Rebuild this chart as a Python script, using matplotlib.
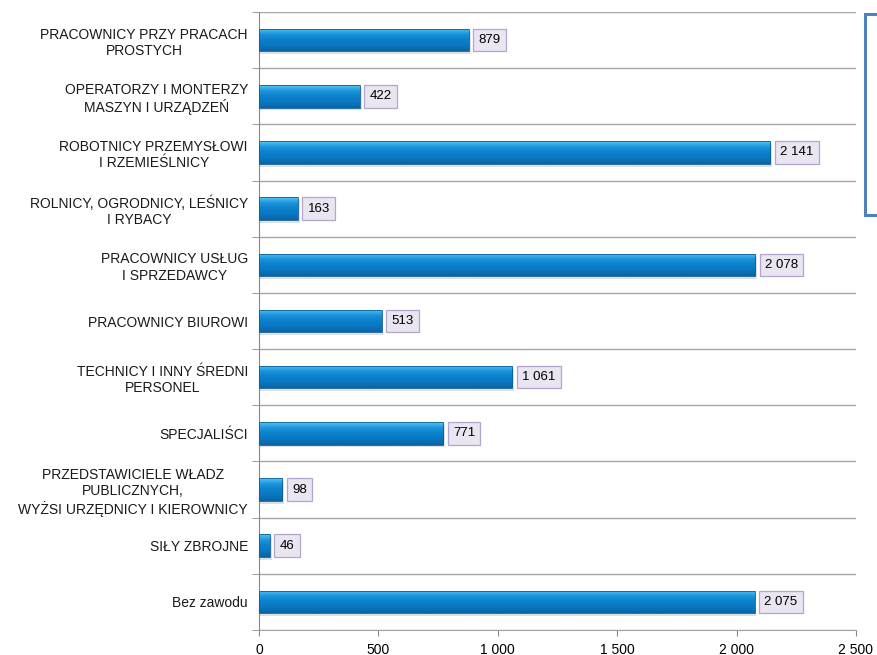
import matplotlib.pyplot as plt
import numpy as np
from matplotlib.colors import LinearSegmentedColormap
from matplotlib.patches import Rectangle

plt.rcParams['font.family'] = ['Liberation Sans', 'DejaVu Sans']

categories = [
    "PRACOWNICY PRZY PRACACH\nPROSTYCH",
    "OPERATORZY I MONTERZY\nMASZYN I URZĄDZEŃ",
    "ROBOTNICY PRZEMYSŁOWI\nI RZEMIEŚLNICY",
    "ROLNICY, OGRODNICY, LEŚNICY\nI RYBACY",
    "PRACOWNICY USŁUG\nI SPRZEDAWCY",
    "PRACOWNICY BIUROWI",
    "TECHNICY I INNY ŚREDNI\nPERSONEL",
    "SPECJALIŚCI",
    "PRZEDSTAWICIELE WŁADZ\nPUBLICZNYCH,\nWYŻSI URZĘDNICY I KIEROWNICY",
    "SIŁY ZBROJNE",
    "Bez zawodu",
]
values = [879, 422, 2141, 163, 2078, 513, 1061, 771, 98, 46, 2075]
x_ticks = [0, 500, 1000, 1500, 2000, 2500]


def fmt(v):
    return f"{v:,}".replace(",", " ")


fig = plt.figure(figsize=(8.78, 6.55), dpi=100)
ax = fig.add_axes([259 / 878, 1 - 630 / 655, (856 - 259) / 878, (630 - 12) / 655])

n = len(categories)
pos = np.arange(n)[::-1]
bar_h = 0.4

grad = LinearSegmentedColormap.from_list(
    "bar", ["#0a64a4", "#0a76c0", "#0c80ca", "#1b95dc", "#55c6f4"])
g = np.linspace(0, 1, 64).reshape(-1, 1)

for y, v in zip(pos, values):
    # soft shadow
    ax.add_patch(Rectangle((0, y - bar_h / 2 - 0.05), v + 8, bar_h, facecolor="#000000",
                           alpha=0.12, edgecolor="none", zorder=2))
    im = ax.imshow(g, cmap=grad, aspect="auto", origin="lower",
                   extent=(0, v, y - bar_h / 2, y + bar_h / 2), zorder=3)
    clip = Rectangle((0, y - bar_h / 2), v, bar_h, transform=ax.transData,
                     facecolor="none", edgecolor="none")
    ax.add_patch(clip)
    im.set_clip_path(clip)
    ax.add_patch(Rectangle((0, y - bar_h / 2), v, bar_h, facecolor="none",
                           edgecolor="#0a5e98", linewidth=0.6, zorder=4))
    ax.annotate(fmt(v), xy=(v, y), xytext=(7, 0), textcoords="offset points",
                ha="left", va="center", fontsize=9.5, color="#000000", zorder=5,
                bbox=dict(boxstyle="square,pad=0.4", facecolor="#e9e5f1",
                          edgecolor="#b3a5cf", linewidth=0.9))

ax.set_xlim(0, 2500)
ax.set_ylim(-0.5, n - 0.5)

ax.set_xticks(x_ticks)
ax.set_xticklabels([fmt(t) for t in x_ticks], fontsize=10)
ax.set_yticks(pos)
ax.set_yticklabels(categories, fontsize=10, multialignment="center", linespacing=1.2,
                   color="#1a1a1a")
ax.tick_params(axis="y", which="major", length=0, pad=8)
ax.tick_params(axis="x", which="major", length=4, color="#888888", pad=5)

ax.set_yticks(np.arange(n + 1) - 0.5, minor=True)
ax.tick_params(axis="y", which="minor", length=5, color="#888888")
ax.grid(axis="y", which="minor", color="#a6a6a6", linewidth=1.0)
ax.set_axisbelow(True)

for s in ["top", "right"]:
    ax.spines[s].set_visible(False)
ax.spines["left"].set_color("#888888")
ax.spines["bottom"].set_color("#a6a6a6")

fig.patches.append(Rectangle((865 / 878, 1 - 215 / 655), 0.05, 201 / 655,
                             transform=fig.transFigure, facecolor="white",
                             edgecolor="#4f81bd", linewidth=2.2))

fig.savefig("out.png", dpi=100)
